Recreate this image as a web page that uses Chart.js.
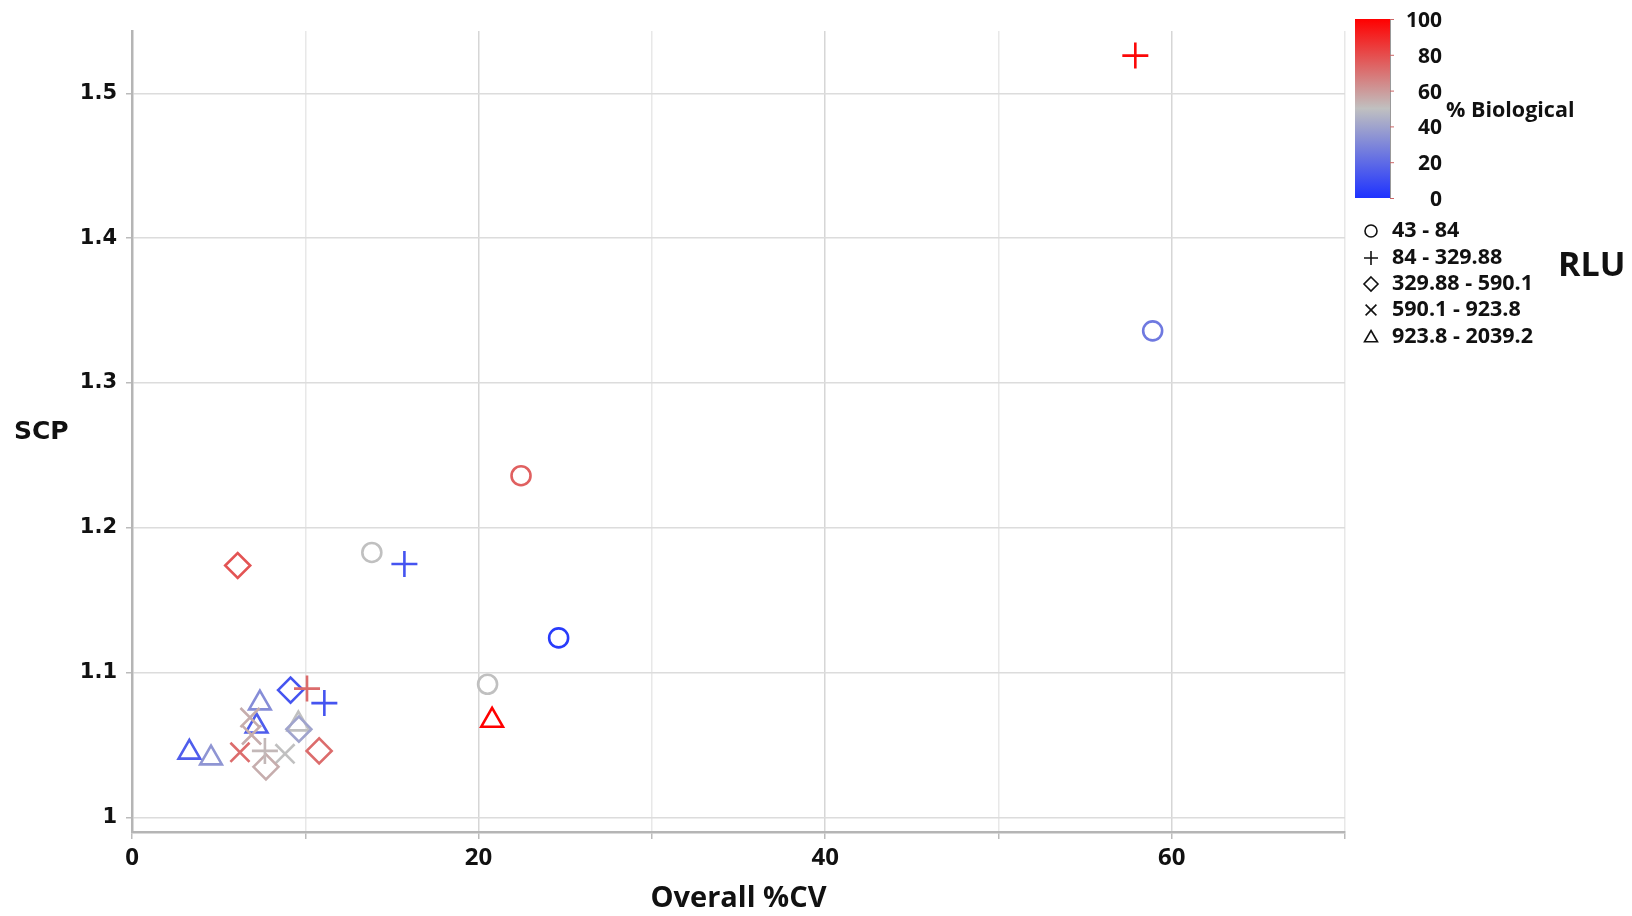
<!DOCTYPE html>
<html><head><meta charset="utf-8">
<script src="https://cdn.jsdelivr.net/npm/chart.js@4.4.1/dist/chart.umd.min.js"></script>
<style>html,body{margin:0;padding:0;background:#fff;}#wrap{width:1632px;height:916px;position:relative;}canvas{display:block;}</style>
</head><body><div id="wrap"><canvas id="c" width="1632" height="916" style="width:1632px;height:916px"></canvas></div>
<script>
// ---- data ----
const rluBins = ['43 - 84', '84 - 329.88', '329.88 - 590.1', '590.1 - 923.8', '923.8 - 2039.2'];
const circleCV  = [58.9, 22.45, 13.84, 24.62, 20.52];
const circleSCP = [1.336, 1.236, 1.183, 1.124, 1.092];
const circleBio = [25, 75, 50, 3, 50];
const plusCV  = [57.9, 15.72, 10.1, 11.1, 7.67];
const plusSCP = [1.526, 1.175, 1.089, 1.079, 1.046];
const plusBio = [98, 12, 72, 12, 52];
const diamondCV  = [6.1, 9.15, 9.63, 10.8, 7.73];
const diamondSCP = [1.174, 1.088, 1.061, 1.046, 1.035];
const diamondBio = [78, 12, 40, 72, 55];
const xMarkCV  = [6.23, 8.83, 6.81, 6.9];
const xMarkSCP = [1.045, 1.044, 1.069, 1.057];
const xMarkBio = [72, 50, 55, 55];
const triCV  = [20.78, 7.38, 7.19, 9.6, 3.31, 4.56];
const triSCP = [1.067, 1.079, 1.063, 1.0645, 1.045, 1.041];
const triBio = [100, 32, 15, 50, 15, 35];
const xTicks = [0, 20, 40, 60];
const yTicks = [1, 1.1, 1.2, 1.3, 1.4, 1.5];
const bioTicks = [0, 20, 40, 60, 80, 100];

// ---- styling ----
const stops = [[0, [30, 50, 255]], [50, [192, 192, 192]], [100, [255, 0, 0]]];
function bioColor(p) {
  let a = stops[0], b = stops[1];
  if (p > 50) { a = stops[1]; b = stops[2]; }
  const t = (p - a[0]) / (b[0] - a[0]);
  const c = a[1].map((v, i) => Math.round(v + (b[1][i] - v) * t));
  return `rgb(${c[0]},${c[1]},${c[2]})`;
}
const shapeStyles = ['circle', 'cross', 'rectRot', 'crossRot', 'triangle'];
const shapeRadii = [9.5, 13, 12.5, 13.5, 12.5];
const groups = [
  [circleCV, circleSCP, circleBio],
  [plusCV, plusSCP, plusBio],
  [diamondCV, diamondSCP, diamondBio],
  [xMarkCV, xMarkSCP, xMarkBio],
  [triCV, triSCP, triBio]
];
const datasets = groups.map((g, i) => ({
  label: rluBins[i],
  data: g[0].map((x, j) => ({x: x, y: g[1][j]})),
  pointStyle: shapeStyles[i],
  pointRadius: shapeRadii[i],
  pointBorderWidth: 2.6,
  pointBorderColor: g[2].map(bioColor),
  pointBackgroundColor: 'rgba(0,0,0,0)',
  showLine: false
}));

function drawShape(ctx, style, x, y, r) {
  ctx.beginPath();
  if (style === 'circle') { ctx.arc(x, y, r, 0, Math.PI * 2); }
  else if (style === 'cross') { ctx.moveTo(x - r, y); ctx.lineTo(x + r, y); ctx.moveTo(x, y - r); ctx.lineTo(x, y + r); }
  else if (style === 'rectRot') { ctx.moveTo(x, y - r); ctx.lineTo(x + r, y); ctx.lineTo(x, y + r); ctx.lineTo(x - r, y); ctx.closePath(); }
  else if (style === 'crossRot') { const d = r * 0.72; ctx.moveTo(x - d, y - d); ctx.lineTo(x + d, y + d); ctx.moveTo(x + d, y - d); ctx.lineTo(x - d, y + d); }
  else if (style === 'triangle') { ctx.moveTo(x, y - r); ctx.lineTo(x + r * 0.866, y + r * 0.5); ctx.lineTo(x - r * 0.866, y + r * 0.5); ctx.closePath(); }
  ctx.stroke();
}

const decor = {
  id: 'decor',
  afterDraw(chart) {
    const ctx = chart.ctx;
    ctx.save();
    ctx.fillStyle = '#111';
    ctx.font = 'bold 25px "DejaVu Sans"';
    ctx.textAlign = 'left'; ctx.textBaseline = 'middle';
    ctx.fillText('SCP', 14, 432);
    const bx = 1355, bw = 35, bt = 19, bb = 198;
    const grad = ctx.createLinearGradient(0, bb, 0, bt);
    stops.forEach(s => grad.addColorStop(s[0] / 100, `rgb(${s[1].join(',')})`));
    ctx.fillStyle = grad;
    ctx.fillRect(bx, bt, bw, bb - bt);
    ctx.strokeStyle = '#999'; ctx.lineWidth = 1;
    ctx.beginPath(); ctx.moveTo(bx + bw + 0.5, bt); ctx.lineTo(bx + bw + 0.5, bb); ctx.stroke();
    ctx.fillStyle = '#111';
    ctx.font = 'bold 21px "Open Sans"';
    ctx.textAlign = 'right'; ctx.textBaseline = 'middle';
    bioTicks.forEach(v => {
      const y = bb - (bb - bt) * v / 100;
      ctx.strokeStyle = '#c66'; ctx.beginPath(); ctx.moveTo(bx + bw, y + 0.5); ctx.lineTo(bx + bw + 4, y + 0.5); ctx.stroke();
      ctx.fillText(String(v), 1442, y + 2);
    });
    ctx.textAlign = 'left';
    ctx.font = 'bold 21.5px "Open Sans"';
    ctx.fillText('% Biological', 1446, 111);
    const rows = [231, 258, 284, 310, 337];
    ctx.strokeStyle = '#111'; ctx.lineWidth = 1.6;
    ctx.font = 'bold 21.5px "Open Sans"';
    const lr = [6, 7, 7, 7.5, 7.5];
    rows.forEach((y, i) => {
      drawShape(ctx, shapeStyles[i], 1371, shapeStyles[i] === 'triangle' ? y + 1 : y, lr[i]);
      ctx.fillText(rluBins[i], 1392, y);
    });
    ctx.font = 'bold 34px "Open Sans"';
    ctx.fillText('RLU', 1558, 266);
    ctx.restore();
  }
};

new Chart(document.getElementById('c'), {
  type: 'scatter',
  data: {datasets: datasets},
  options: {
    responsive: false,
    maintainAspectRatio: false,
    animation: false,
    events: [],
    devicePixelRatio: 1,
    layout: {padding: {left: 0, right: 287, top: 31, bottom: 0}},
    plugins: {legend: {display: false}, tooltip: {enabled: false}},
    scales: {
      x: {
        type: 'linear', min: 0, max: 70,
        afterFit(s) { s.height = 84; },
        afterBuildTicks(s) { s.ticks = [0, 10, 20, 30, 40, 50, 60, 70].map(v => ({value: v})); },
        ticks: {
          callback: v => xTicks.includes(v) ? String(v) : '',
          font: {family: 'Open Sans', weight: 'bold', size: 24},
          color: '#111', padding: 5, maxRotation: 0, autoSkip: false
        },
        grid: {
          color: c => (c.tick && c.tick.value % 20 === 0) ? '#d6d6d6' : '#e8e8e8',
          lineWidth: 1.5, tickLength: 7, tickColor: '#bbb'
        },
        border: {color: '#b5b5b5', width: 2.5},
        title: {display: true, text: 'Overall %CV', font: {family: 'Open Sans', weight: 'bold', size: 29}, color: '#111', padding: {top: 0, bottom: 0}}
      },
      y: {
        type: 'linear', min: 0.99, max: 1.543,
        afterFit(s) { s.width = 132; },
        afterBuildTicks(s) { s.ticks = yTicks.map(v => ({value: v})); },
        ticks: {
          callback: v => String(Math.round(v * 10) / 10),
          font: {family: 'DejaVu Sans', weight: 'bold', size: 21},
          color: '#111', padding: 9
        },
        grid: {color: '#dcdcdc', lineWidth: 1.5, tickLength: 6, tickColor: '#bbb'},
        border: {color: '#b5b5b5', width: 2.5}
      }
    }
  },
  plugins: [decor]
});
</script></body></html>
